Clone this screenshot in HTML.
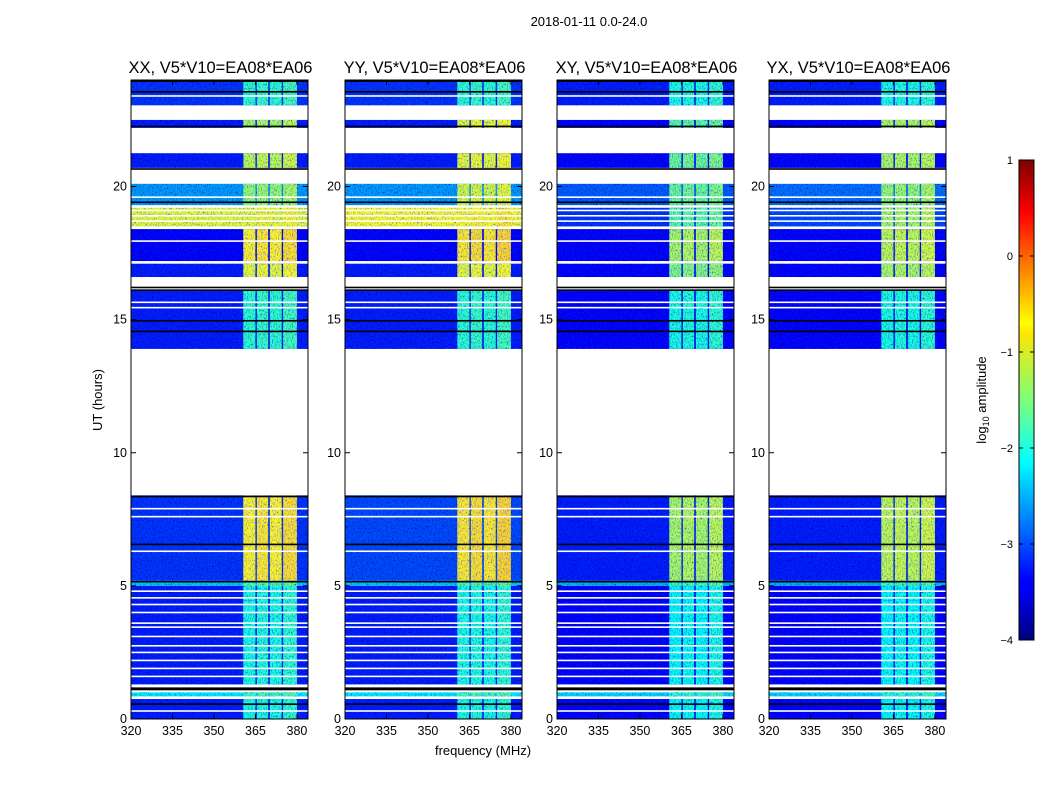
<!DOCTYPE html>
<html><head><meta charset="utf-8">
<style>
html,body{margin:0;padding:0;background:#fff;}
svg{display:block;font-family:"Liberation Sans",sans-serif;}
</style></head>
<body>
<svg id="fig" width="1050" height="800" viewBox="0 0 1050 800" xmlns="http://www.w3.org/2000/svg">
<defs>
<filter id="speckle" x="0" y="0" width="100%" height="100%">
  <feTurbulence type="fractalNoise" baseFrequency="0.8 0.5" numOctaves="2" seed="3" result="n"/>
  <feColorMatrix in="n" type="matrix" values="0 0 0 0 0  0 0 0 0 0  0 0 0 0 0.45  2.2 0 0 0 -0.95" result="dn"/>
  <feComposite in="dn" in2="SourceAlpha" operator="in" result="dm"/>
  <feMerge><feMergeNode in="SourceGraphic"/><feMergeNode in="dm"/></feMerge>
</filter>
<linearGradient id="jetgrad" x1="0" y1="1" x2="0" y2="0">
  <stop offset="0" stop-color="#00007f"/><stop offset="0.11" stop-color="#0000ff"/>
  <stop offset="0.125" stop-color="#0000ff"/><stop offset="0.34" stop-color="#00dcff"/>
  <stop offset="0.37" stop-color="#0ff"/><stop offset="0.5" stop-color="#7dff7a"/>
  <stop offset="0.64" stop-color="#ffe600"/><stop offset="0.66" stop-color="#ff0"/>
  <stop offset="0.89" stop-color="#ff0000"/><stop offset="1" stop-color="#7f0000"/>
</linearGradient>
</defs>
<text x="589" y="26" font-size="13" text-anchor="middle">2018-01-11 0.0-24.0</text>
<g id="panels"></g>
<text x="102" y="400" font-size="13" text-anchor="middle" transform="rotate(-90 102 400)">UT (hours)</text>
<text x="483" y="755" font-size="13" text-anchor="middle">frequency (MHz)</text>
<g id="cbar">
  <rect x="1019" y="160" width="15" height="480" fill="url(#jetgrad)" stroke="#000" stroke-width="1"/>
</g>
<text x="986" y="400" font-size="13" text-anchor="middle" transform="rotate(-90 986 400)">log<tspan font-size="9" dy="3">10</tspan><tspan dy="-3"> amplitude</tspan></text>
</svg>
<script>
// ---- data ----
const panelTitles = ["XX, V5*V10=EA08*EA06","YY, V5*V10=EA08*EA06","XY, V5*V10=EA08*EA06","YX, V5*V10=EA08*EA06"];
const segStart = [0, 0.85, 1.3, 5.0, 5.2, 13.9, 16.6, 17.2, 18.5, 19.3, 20.7, 22.2, 23.05];
const segEnd   = [0.75, 1.0, 5.0, 5.2, 8.4, 16.1, 17.1, 18.4, 19.2, 20.1, 21.25, 22.5, 24.0];
const bgXX   = [-3.2, -2.2, -3.2, -2.4, -3.1, -3.2, -3.2, -3.3, -1.0, -2.6, -3.2, -3.2, -3.1];
const bgYY   = [-3.2, -2.2, -3.2, -2.4, -3.0, -3.2, -3.2, -3.3, -0.9, -2.6, -3.2, -3.2, -3.1];
const bgXY   = [-3.3, -2.3, -3.3, -2.5, -3.2, -3.3, -3.3, -3.3, -3.1, -2.9, -3.3, -3.3, -3.2];
const bgYX   = [-3.3, -2.3, -3.3, -2.5, -3.2, -3.3, -3.3, -3.3, -3.0, -2.8, -3.3, -3.3, -3.2];
const bandXX = [-2.0, -1.8, -2.0, -1.7, -0.85, -1.9, -1.0, -0.85, -1.0, -1.4, -1.2, -1.3, -1.9];
const bandYY = [-2.0, -1.8, -2.0, -1.7, -0.8, -1.9, -1.0, -0.8, -0.9, -1.1, -1.0, -1.0, -1.9];
const bandXY = [-2.1, -1.9, -2.1, -1.8, -1.3, -2.0, -1.5, -1.3, -1.7, -1.6, -1.6, -1.7, -2.0];
const bandYX = [-2.1, -1.9, -2.1, -1.8, -1.2, -2.0, -1.3, -1.2, -1.3, -1.4, -1.3, -1.3, -2.0];
const chanStart = [360.6, 365.5, 370.2, 375.0];
const chanEnd   = [365.0, 369.6, 374.5, 380.0];
const chanOffset = [0.0, 0.05, 0.0, 0.1];
const whiteGaps = [0.3, 1.6, 1.9, 2.2, 2.5, 2.75, 3.1, 3.45, 3.6, 4.0, 4.3, 4.55, 4.8, 7.6, 7.9, 6.3, 15.45, 15.65, 17.95, 18.7, 18.9, 19.1, 19.6, 23.4];
const flagTimes = [0.55, 1.1, 1.15, 5.15, 6.55, 8.35, 14.55, 14.95, 16.1, 16.2, 19.4, 20.65, 22.25, 23.55, 23.95];
const xTicks = [320, 335, 350, 365, 380];
const yTicks = [0, 5, 10, 15, 20];
const cbTicks = [1, 0, -1, -2, -3, -4];
// ---- layout ----
const panelX = [131, 345, 557, 769], PW = 177, PY0 = 80, PY1 = 719;
const fMin = 320, fMax = 384, tMin = 0, tMax = 24;
const NS = "http://www.w3.org/2000/svg";
function jet(v){
  let x = Math.max(0, Math.min(1, (v + 4) / 5));
  const r = Math.min(4*x-1.5, -4*x+4.5), g = Math.min(4*x-0.5, -4*x+3.5), b = Math.min(4*x+0.5, -4*x+2.5);
  const c = t => Math.round(255*Math.max(0, Math.min(1, t)));
  return `rgb(${c(r)},${c(g)},${c(b)})`;
}
function mk(tag, attrs, parent){ const e = document.createElementNS(NS, tag); for (const k in attrs) e.setAttribute(k, attrs[k]); parent.appendChild(e); return e; }
const bgs = [bgXX, bgYY, bgXY, bgYX], bands = [bandXX, bandYY, bandXY, bandYX];
const root = document.getElementById('panels');
panelX.forEach((x0, p) => {
  const xs = f => x0 + (f - fMin) / (fMax - fMin) * PW;
  const ys = t => PY1 - (t - tMin) / (tMax - tMin) * (PY1 - PY0);
  const g = mk('g', {}, root);
  
  
  const data = mk('g', {filter: 'url(#speckle)'}, g);
  
  
  segStart.forEach((s, i) => {
    const y1 = ys(segEnd[i]), y2 = ys(s);
    const r = mk('rect', {x: xs(fMin), y: y1, width: PW, height: y2 - y1, fill: jet(bgs[p][i])}, data);
    
    
    chanStart.forEach((c, j) => {
      const b = mk('rect', {x: xs(c), y: y1, width: xs(chanEnd[j]) - xs(c), height: y2 - y1, fill: jet(bands[p][i] + chanOffset[j])}, data);
      
      
    });
  });
  whiteGaps.forEach(t => {
    const w = mk('rect', {x: x0, y: ys(t) - 0.8, width: PW, height: 1.6, fill: '#fff'}, g);
    
    
  });
  flagTimes.forEach(t => {
    const l = mk('rect', {x: x0, y: ys(t) - 1, width: PW, height: 1.6, fill: '#000'}, g);
    
    
  });
  const fr = mk('rect', {x: x0, y: PY0, width: PW, height: PY1 - PY0, fill: 'none', stroke: '#000', 'stroke-width': 1}, g);
  
  
  const tt = mk('text', {x: x0 + PW/2 + 1, y: 73, 'font-size': 16.5, 'text-anchor': 'middle'}, g);
  tt.textContent = panelTitles[p];
  
  
  xTicks.forEach(f => {
    const X = xs(f);
    mk('line', {x1: X, x2: X, y1: PY1, y2: PY1 - 5, stroke: '#000'}, g);
    mk('line', {x1: X, x2: X, y1: PY0, y2: PY0 + 5, stroke: '#000'}, g);
    const t = mk('text', {x: X, y: PY1 + 16, 'font-size': 12.5, 'text-anchor': 'middle'}, g);
    t.textContent = f;
    
    
  });
  yTicks.forEach(v => {
    const Y = ys(v);
    mk('line', {x1: x0, x2: x0 + 5, y1: Y, y2: Y, stroke: '#000'}, g);
    mk('line', {x1: x0 + PW, x2: x0 + PW - 5, y1: Y, y2: Y, stroke: '#000'}, g);
    const t = mk('text', {x: x0 - 4, y: Y + 4, 'font-size': 12.5, 'text-anchor': 'end'}, g);
    t.textContent = v;
    
    
  });
});
const cb = document.getElementById('cbar');
cbTicks.forEach(v => {
  const Y = 160 + (1 - v) / 5 * 480;
  mk('line', {x1: 1019, x2: 1023, y1: Y, y2: Y, stroke: '#000'}, cb);
  mk('line', {x1: 1034, x2: 1030, y1: Y, y2: Y, stroke: '#000'}, cb);
  const t = mk('text', {x: 1013, y: Y + 4, 'font-size': 11, 'text-anchor': 'end'}, cb);
  t.textContent = v < 0 ? '\u2212' + (-v) : v;
  
  
});
</script>
</body></html>
